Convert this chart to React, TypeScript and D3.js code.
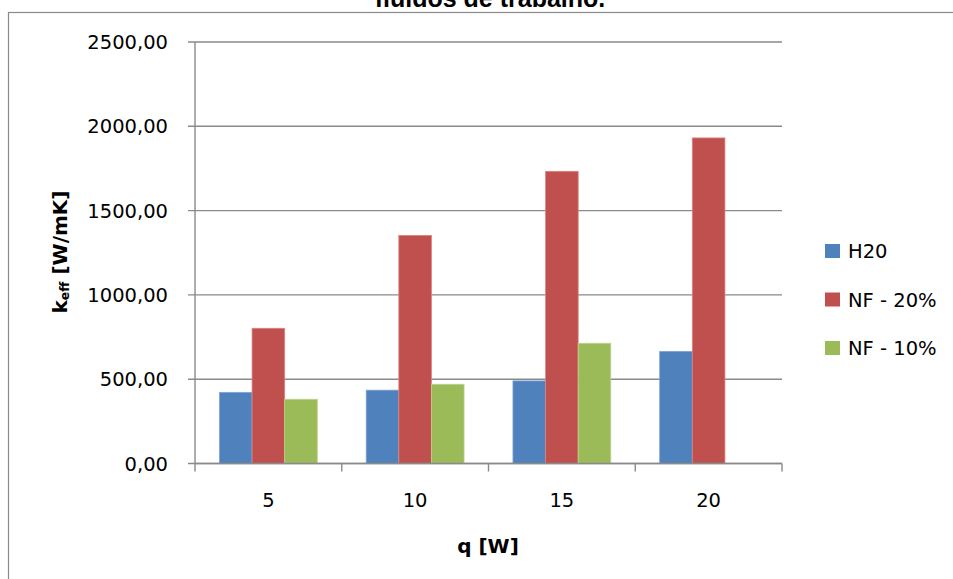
import React from "react";
import * as d3 from "d3";

// Effective thermal conductivity per heat load and working fluid
const categories = ["5", "10", "15", "20"];
const seriesNames = ["H20", "NF - 20%", "NF - 10%"];
const h2oValues = [422, 435, 490, 665];
const nf20Values = [802, 1353, 1733, 1931];
const nf10Values: (number | null)[] = [381, 470, 713, null];
const yTickValues = [0, 500, 1000, 1500, 2000, 2500];
const seriesColors = ["#4F81BD", "#C0504D", "#9BBB59"];
const seriesEdges = ["#7FA3D1", "#D98583", "#BCD38E"];

const W = 953;
const H = 579;
const plot = { left: 195, right: 782, top: 42, bottom: 463.5 };
const labelFont = "'DejaVu Sans', sans-serif";
const gridColor = "#8a8a8a";

export default function App() {
  const series = [h2oValues, nf20Values, nf10Values];

  const x = d3.scaleBand<string>().domain(categories).range([plot.left, plot.right]).padding(0);
  const inner = d3
    .scaleBand<number>()
    .domain([0, 1, 2])
    .range([0, x.bandwidth()])
    .paddingInner(0)
    .paddingOuter(0.75);
  const y = d3.scaleLinear().domain([0, 2500]).range([plot.bottom, plot.top]);
  const fmt = (v: number) => d3.format(".2f")(v).replace(".", ",");

  const boundaries = [...categories.map((c) => x(c) as number), plot.right];

  return (
    <div style={{ position: "absolute", left: 0, top: 0 }}>
      <svg width={W} height={H} style={{ display: "block", background: "#fff" }}>
        {/* chart frame */}
        <rect x={8.5} y={12.5} width={W + 20} height={H + 20} fill="#fff" stroke={gridColor} strokeWidth={1.2} />

        {/* title (second line) */}
        <text
          x={490}
          y={7}
          textAnchor="middle"
          fontFamily="'Liberation Sans', Arial, sans-serif"
          fontWeight="bold"
          fontSize={25}
          fill="#000"
        >
          fluidos de trabalho.
        </text>

        {/* gridlines */}
        {yTickValues.map((t) => (
          <line
            key={"g" + t}
            x1={plot.left - 7}
            x2={plot.right}
            y1={y(t)}
            y2={y(t)}
            stroke={gridColor}
            strokeWidth={1.4}
          />
        ))}

        {/* y axis */}
        <line x1={plot.left} x2={plot.left} y1={plot.top} y2={plot.bottom} stroke={gridColor} strokeWidth={1.4} />
        {yTickValues.map((t) => (
          <text
            key={"yl" + t}
            x={168}
            y={y(t)}
            dy="0.36em"
            textAnchor="end"
            fontFamily={labelFont}
            fontSize={19.5}
            fill="#000"
          >
            {fmt(t)}
          </text>
        ))}

        {/* bars */}
        {series.map((vals, si) =>
          vals.map((v, ci) =>
            v == null ? null : (
              <rect
                key={`b${si}-${ci}`}
                x={(x(categories[ci]) as number) + (inner(si) as number)}
                y={y(v)}
                width={inner.bandwidth()}
                height={plot.bottom - y(v)}
                fill={seriesColors[si]}
                stroke={seriesEdges[si]}
                strokeWidth={0.8}
              />
            )
          )
        )}

        {/* x axis */}
        <line x1={plot.left} x2={plot.right} y1={plot.bottom} y2={plot.bottom} stroke={gridColor} strokeWidth={1.4} />
        {boundaries.map((b, i) => (
          <line key={"xt" + i} x1={b} x2={b} y1={plot.bottom} y2={plot.bottom + 8} stroke={gridColor} strokeWidth={1.4} />
        ))}
        {categories.map((c) => (
          <text
            key={"xl" + c}
            x={(x(c) as number) + x.bandwidth() / 2}
            y={507}
            textAnchor="middle"
            fontFamily={labelFont}
            fontSize={19.5}
            fill="#000"
          >
            {c}
          </text>
        ))}

        {/* axis titles */}
        <text
          x={488}
          y={553}
          textAnchor="middle"
          fontFamily={labelFont}
          fontWeight="bold"
          fontSize={20}
          fill="#000"
        >
          q [W]
        </text>
        <text
          transform="translate(67,252) rotate(-90)"
          textAnchor="middle"
          fontFamily={labelFont}
          fontWeight="bold"
          fontSize={20}
          fill="#000"
        >
          k
          <tspan fontSize={12.5} dy={2}>
            eff
          </tspan>
          <tspan dy={-2}> [W/mK]</tspan>
        </text>

        {/* legend */}
        {seriesNames.map((name, i) => (
          <g key={"lg" + i} transform={`translate(825, ${244 + i * 48.5})`}>
            <rect width={15} height={14} fill={seriesColors[i]} />
            <text x={23} y={7} dy="0.36em" fontFamily={labelFont} fontSize={19.5} fill="#000">
              {name}
            </text>
          </g>
        ))}
      </svg>
    </div>
  );
}
